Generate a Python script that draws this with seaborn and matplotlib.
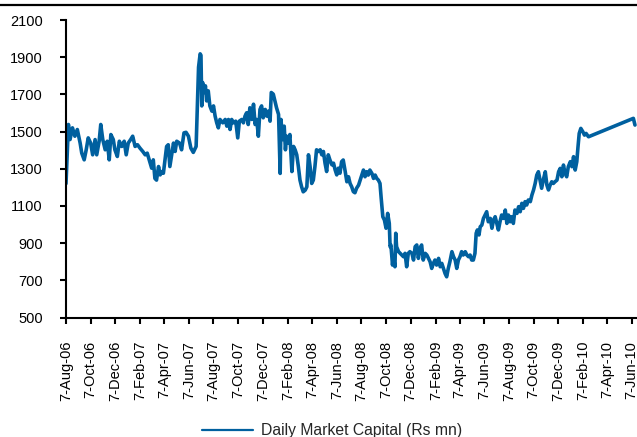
import matplotlib
matplotlib.use("Agg")
import matplotlib.pyplot as plt
from matplotlib.lines import Line2D
import pandas as pd
import seaborn as sns

# ---------------- data ----------------
start_date = "2006-08-07"
series_name = "Daily Market Capital (Rs mn)"

# calendar days after start_date for each reading
day_offsets = [
    0, 6, 10, 16, 22, 28, 35, 39, 45, 50, 55, 61, 66, 72, 76, 82, 86, 91, 97, 102,
    107, 111, 117, 121, 127, 132, 138, 144, 149, 154, 160, 165, 171, 177, 183, 190, 196, 201, 206, 212,
    216, 220, 224, 229, 233, 237, 241, 245, 249, 253, 257, 262, 266, 270, 274, 281, 286, 292, 297, 303,
    309, 315, 322, 325, 328, 332, 334, 336, 338, 342, 345, 348, 352, 356, 361, 365, 369, 373, 377, 381,
    388, 394, 398, 402, 406, 410, 414, 420, 425, 429, 435, 439, 443, 447, 451, 455, 460, 464, 468, 472,
    476, 480, 484, 488, 493, 497, 501, 505, 508, 513, 517, 521, 526, 530, 532, 536, 540, 543, 546, 550,
    554, 559, 563, 567, 571, 575, 579, 583, 587, 592, 596, 600, 604, 608, 612, 616, 620, 625, 629, 633,
    637, 641, 645, 649, 653, 658, 662, 666, 670, 674, 678, 682, 686, 691, 695, 699, 703, 707, 711, 715,
    719, 724, 728, 732, 736, 740, 744, 748, 752, 757, 761, 765, 769, 773, 777, 780, 784, 788, 792, 796,
    800, 802, 804, 808, 810, 814, 816, 818, 823, 827, 831, 835, 839, 843, 847, 851, 856, 860, 864, 868,
    872, 876, 880, 884, 889, 893, 897, 901, 905, 909, 913, 917, 922, 926, 930, 934, 938, 942, 946, 950,
    955, 959, 963, 967, 971, 975, 979, 983, 988, 992, 996, 1000, 1004, 1008, 1012, 1015, 1018, 1022, 1025, 1029,
    1033, 1037, 1041, 1045, 1050, 1054, 1058, 1062, 1066, 1070, 1074, 1078, 1083, 1087, 1091, 1095, 1099, 1103, 1107, 1111,
    1116, 1120, 1124, 1128, 1132, 1136, 1140, 1144, 1149, 1153, 1157, 1161, 1165, 1169, 1173, 1177, 1182, 1186, 1190, 1194,
    1198, 1202, 1206, 1210, 1215, 1219, 1223, 1227, 1231, 1235, 1239, 1243, 1248, 1252, 1256, 1260, 1264, 1267, 1270, 1274,
    1279, 1283, 1287, 1293, 1404, 1408,
]

market_cap = [
    1220, 1538, 1457, 1520, 1475, 1511, 1438, 1384, 1348, 1402, 1466, 1438, 1375, 1457, 1375, 1448, 1538, 1457, 1402, 1448,
    1348, 1484, 1457, 1402, 1366, 1448, 1420, 1448, 1375, 1438, 1457, 1475, 1420, 1429, 1411, 1393, 1375, 1384, 1348, 1303,
    1348, 1248, 1239, 1312, 1267, 1285, 1276, 1348, 1420, 1429, 1312, 1384, 1438, 1393, 1448, 1438, 1402, 1493, 1496, 1475,
    1411, 1388, 1420, 1638, 1846, 1918, 1910, 1638, 1764, 1710, 1746, 1665, 1719, 1638, 1610, 1638, 1583, 1547, 1520, 1565,
    1547, 1565, 1529, 1565, 1511, 1565, 1547, 1556, 1466, 1556, 1565, 1547, 1583, 1601, 1538, 1628, 1565, 1647, 1538, 1565,
    1475, 1619, 1638, 1574, 1619, 1583, 1610, 1556, 1710, 1701, 1665, 1628, 1592, 1275, 1565, 1457, 1529, 1402, 1475, 1438,
    1484, 1285, 1420, 1402, 1375, 1312, 1239, 1203, 1176, 1185, 1203, 1375, 1312, 1221, 1239, 1312, 1402, 1393, 1402, 1375,
    1393, 1330, 1285, 1375, 1348, 1321, 1330, 1294, 1267, 1303, 1276, 1338, 1347, 1284, 1230, 1257, 1221, 1203, 1177, 1171,
    1195, 1212, 1239, 1266, 1293, 1257, 1284, 1266, 1293, 1275, 1248, 1266, 1248, 1239, 1221, 1141, 1042, 1024, 980, 1060,
    1006, 881, 890, 782, 827, 773, 953, 881, 854, 845, 836, 827, 845, 773, 845, 854, 845, 809, 881, 890,
    818, 872, 890, 809, 845, 836, 818, 800, 764, 791, 809, 782, 818, 773, 791, 764, 737, 719, 764, 800,
    854, 827, 809, 764, 809, 827, 854, 836, 854, 836, 827, 836, 809, 809, 845, 953, 971, 944, 988, 997,
    1033, 1051, 1069, 1015, 1033, 980, 1024, 1042, 1006, 971, 1015, 1051, 1033, 1078, 1006, 1051, 1015, 1042, 1006, 1078,
    1060, 1096, 1069, 1114, 1087, 1123, 1105, 1132, 1123, 1159, 1186, 1221, 1266, 1284, 1239, 1195, 1248, 1284, 1212, 1186,
    1212, 1230, 1221, 1230, 1239, 1284, 1302, 1257, 1320, 1275, 1257, 1311, 1338, 1311, 1365, 1293, 1338, 1418, 1490, 1517,
    1499, 1481, 1490, 1472, 1571, 1535,
]

x_tick_labels = [
    "7-Aug-06", "7-Oct-06", "7-Dec-06", "7-Feb-07", "7-Apr-07", "7-Jun-07",
    "7-Aug-07", "7-Oct-07", "7-Dec-07", "7-Feb-08", "7-Apr-08", "7-Jun-08",
    "7-Aug-08", "7-Oct-08", "7-Dec-08", "7-Feb-09", "7-Apr-09", "7-Jun-09",
    "7-Aug-09", "7-Oct-09", "7-Dec-09", "7-Feb-10", "7-Apr-10", "7-Jun-10",
]
y_ticks = [500, 700, 900, 1100, 1300, 1500, 1700, 1900, 2100]

# ---------------- style ----------------
LINE_COLOR = "#00609F"
FONT_SIZE = 10.5
LEGEND_SIZE = 11.3
W, H = 637, 437

sns.set_style("ticks")
plt.rcParams["font.family"] = ["Liberation Sans", "DejaVu Sans"]

fig = plt.figure(figsize=(W / 100, H / 100), dpi=100)
ax = fig.add_axes([66 / W, (H - 317.5) / H, (W - 66) / W, (317.5 - 20) / H])

df = pd.DataFrame({
    "Date": pd.Timestamp(start_date) + pd.to_timedelta(day_offsets, unit="D"),
    series_name: market_cap,
})

sns.lineplot(data=df, x="Date", y=series_name, ax=ax, color=LINE_COLOR,
             linewidth=2.6, estimator=None, label=series_name)

ax.set_xlim(pd.Timestamp("2006-08-07"), pd.Timestamp("2010-06-20"))
ax.set_ylim(y_ticks[0], y_ticks[-1])
ax.set_yticks(y_ticks)
ax.set_yticklabels([str(v) for v in y_ticks])

tick_dates = pd.to_datetime(x_tick_labels, format="%d-%b-%y")
ax.set_xticks(tick_dates)
ax.set_xticklabels(x_tick_labels, rotation=90, ha="center", va="top")

ax.set_xlabel("")
ax.set_ylabel("")
ax.grid(False)

for side in ("top", "right"):
    ax.spines[side].set_visible(False)
for side in ("left", "bottom"):
    ax.spines[side].set_linewidth(1.5)
    ax.spines[side].set_color("black")

ax.tick_params(axis="both", direction="out", length=4.3, width=1.5,
               color="black", labelcolor="black", labelsize=FONT_SIZE)
ax.tick_params(axis="x", pad=12.5)
ax.tick_params(axis="y", pad=12.5)

leg = ax.legend(loc="center left", bbox_to_anchor=(201.7 / W, 1 - 431 / H),
                bbox_transform=fig.transFigure, frameon=False, fontsize=LEGEND_SIZE,
                handlelength=3.3, handletextpad=0.45, borderpad=0, borderaxespad=0)
for ln in leg.get_lines():
    ln.set_linewidth(1.6)

# black rule across the top
fig.add_artist(Line2D([0, 1], [1 - 5 / H, 1 - 5 / H], transform=fig.transFigure,
                      color="black", linewidth=1.6))

fig.savefig("out.png", dpi=100)
